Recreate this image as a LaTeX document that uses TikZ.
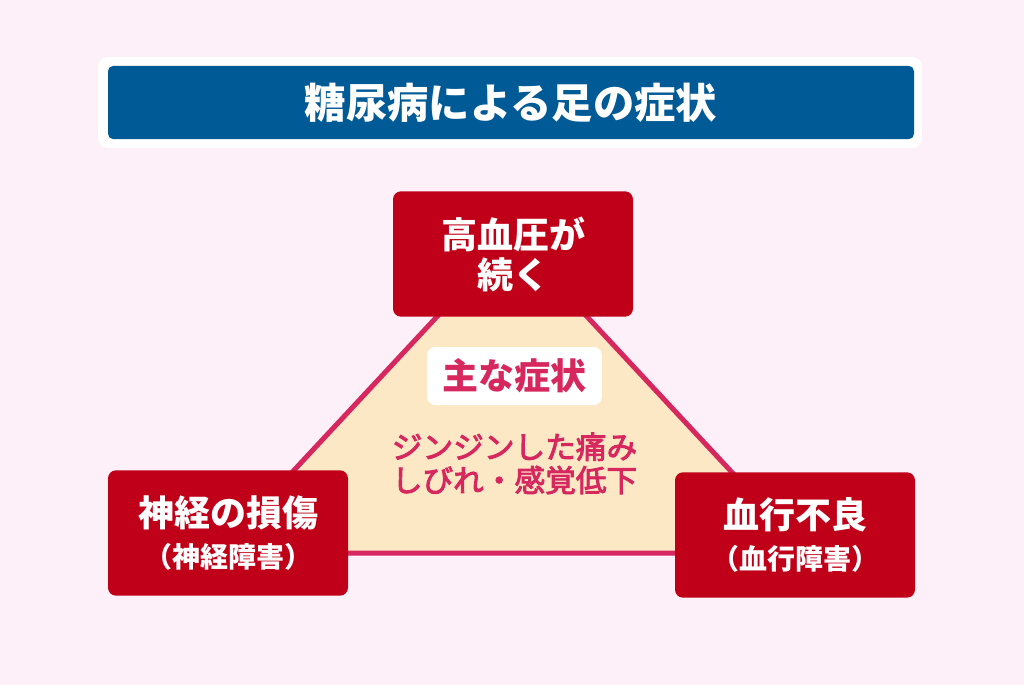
\documentclass[tikz,border=0pt]{standalone}
\usepackage{fontspec}
\newfontfamily\jp{Noto Sans CJK JP}
\newfontfamily\jpmid[FakeBold=3]{Noto Sans CJK JP}
\usetikzlibrary{positioning}

\definecolor{bgpink}{HTML}{FDF0F8}
\definecolor{titleblue}{HTML}{005A96}
\definecolor{causered}{HTML}{C00018}
\definecolor{symcrimson}{HTML}{D6285E}
\definecolor{symbeige}{HTML}{FDE8C6}

\tikzset{
  cause/.style={fill=causered, rounded corners=6pt, minimum width=180pt,
    minimum height=94pt, text=white, align=center, inner sep=0pt},
  bigtxt/.style={font=\jp\bfseries\fontsize{27}{30}\selectfont},
}

\begin{document}
\begin{tikzpicture}[x=0.75pt,y=-0.75pt]
    \fill[bgpink] (0,0) rectangle (1024,685);
    \useasboundingbox (0,0) rectangle (1024,685);

    % title
    \node[fill=white, rounded corners=7pt, minimum width=618pt, minimum height=68pt]
      (frame) at (510,102.5) {};
    \node[fill=titleblue, rounded corners=4pt, minimum width=604.5pt, minimum height=55pt,
      text=white, font=\jp\bfseries\fontsize{31}{34}\selectfont]
      (title) at (511,102.5) {糖尿病による足の症状};

    % triangle behind the boxes
    \coordinate (apex) at (512,236);
    \coordinate (bl)   at (217,553);
    \coordinate (br)   at (807,553);
    \draw[symcrimson, fill=symbeige, line width=3.75pt] (apex) -- (bl) -- (br) -- cycle;

    \node[fill=white, rounded corners=6pt, minimum width=131pt, minimum height=43.5pt,
      text=symcrimson, font=\jp\bfseries\fontsize{27}{30}\selectfont]
      (tag) at (514.5,376) {主な症状};
    \node[text=symcrimson, align=center, font=\jpmid\fontsize{23}{25}\selectfont]
      (sym) [below=17pt of tag] {ジンジンした痛み\\しびれ・感覚低下};

    % causes
    \node[cause, bigtxt] (bp)    at (513,254) {高血圧が\\続く};
    \node[cause, bigtxt] (nerve) at (228,533)
      {神経の損傷\\[1pt]{\fontsize{21}{24}\selectfont （神経障害）}};
    \node[cause, bigtxt] (blood) at (795,535)
      {血行不良\\[1pt]{\fontsize{21}{24}\selectfont （血行障害）}};
\end{tikzpicture}
\end{document}
